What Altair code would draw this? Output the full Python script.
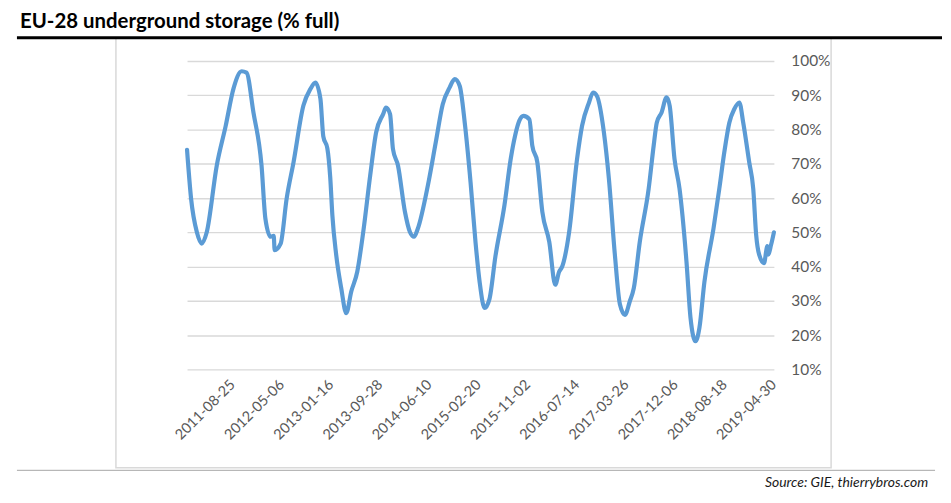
import altair as alt
import pandas as pd

# ---- data ----
dates = [
    "2011-01-01", "2011-01-22", "2011-02-21", "2011-03-18", "2011-04-13", "2011-06-04",
    "2011-07-20", "2011-08-30", "2011-10-11", "2011-11-05", "2011-12-11",
    "2012-01-22", "2012-02-11", "2012-03-09", "2012-03-25", "2012-03-30", "2012-04-30",
    "2012-05-31", "2012-07-06", "2012-08-26", "2012-10-01", "2012-10-27", "2012-11-22",
    "2012-12-07", "2012-12-28",
    "2013-01-12", "2013-01-23", "2013-02-12", "2013-03-10", "2013-04-05", "2013-05-01",
    "2013-06-01", "2013-07-02", "2013-08-07", "2013-09-07", "2013-10-13", "2013-10-28",
    "2013-11-18", "2013-12-03", "2013-12-29",
    "2014-02-03", "2014-03-01", "2014-03-22", "2014-04-11", "2014-06-02", "2014-07-13",
    "2014-08-18", "2014-09-23", "2014-10-19", "2014-11-14", "2014-12-10",
    "2015-01-09", "2015-02-04", "2015-02-25", "2015-03-23", "2015-04-17", "2015-05-18",
    "2015-07-04", "2015-08-04", "2015-08-29", "2015-09-19", "2015-10-10", "2015-11-10",
    "2015-11-25", "2015-12-21",
    "2016-01-16", "2016-02-21", "2016-03-23", "2016-04-12", "2016-04-28", "2016-06-03",
    "2016-07-14", "2016-08-09", "2016-09-14", "2016-10-05", "2016-10-25", "2016-11-30",
    "2016-12-26",
    "2017-01-26", "2017-02-21", "2017-03-19", "2017-04-13", "2017-05-04", "2017-06-04",
    "2017-07-20", "2017-08-15", "2017-08-31", "2017-09-25", "2017-10-21", "2017-11-06",
    "2017-12-01", "2017-12-27",
    "2018-02-01", "2018-02-22", "2018-03-20", "2018-04-09", "2018-05-05", "2018-06-21",
    "2018-07-21", "2018-08-16", "2018-09-11", "2018-10-07", "2018-11-02", "2018-11-22",
    "2018-12-23",
    "2019-01-13", "2019-01-28", "2019-02-13", "2019-03-10", "2019-03-21", "2019-03-26",
    "2019-03-31", "2019-04-16", "2019-04-30",
]
storage_pct = [
    74.1, 59.8, 50.0, 46.7, 50.0, 69.5,
    81.0, 92.0, 97.0, 96.6, 85.0,
    69.5, 54.0, 48.7, 49.0, 44.8, 46.7,
    59.8, 70.5, 87.0, 91.8, 93.7, 89.0,
    78.0, 74.5,
    66.0, 55.0, 43.4, 33.7, 26.4, 32.7,
    38.5, 50.1, 66.6, 79.2, 84.5, 86.4,
    84.5, 74.3, 69.5,
    56.0, 50.1, 48.7, 51.1, 63.7, 76.3,
    87.4, 92.3, 94.7, 92.7, 82.0,
    64.7, 47.0, 35.6, 27.9, 30.5, 43.0,
    58.0, 71.0, 78.5, 82.6, 84.0, 83.0,
    75.3, 70.5,
    56.0, 47.2, 34.7, 38.5, 40.0, 50.1,
    71.4, 81.1, 87.9, 90.8, 89.8, 79.2,
    65.6,
    43.4, 29.0, 25.9, 29.8, 33.7, 47.2,
    62.7, 75.3, 82.0, 85.0, 89.4, 86.9,
    71.4, 62.7,
    41.4, 25.0, 18.2, 22.1, 35.6, 51.1,
    62.7, 73.4, 82.0, 86.0, 87.9, 82.0,
    70.5,
    62.7, 49.3, 43.4, 41.0, 44.5, 46.0,
    43.5, 46.5, 50.0,
]
tick_dates = [
    "2011-08-25", "2012-05-06", "2013-01-16", "2013-09-28", "2014-06-10", "2015-02-20",
    "2015-11-02", "2016-07-14", "2017-03-26", "2017-12-06", "2018-08-18", "2019-04-30",
]
y_ticks = [10, 20, 30, 40, 50, 60, 70, 80, 90, 100]
domain_dates = ["2011-01-01", "2019-04-30"]
title_text = "EU-28 underground storage (% full)"
source_text = "Source: GIE, thierrybros.com"

df = pd.DataFrame({"date": dates, "storage": storage_pct})
one = pd.DataFrame({"k": [0]})


def dt(s):
    y, m, d = (int(p) for p in s.split("-"))
    return alt.DateTime(year=y, month=m, date=d, utc=True)


W, H = 590, 310
PL, PT = 180, 52   # plot origin in svg coords (page = svg + 8)

FONT = "Lato"
GREY = "#595959"

line = alt.Chart(df).mark_line(
    color="#5b9bd5", strokeWidth=4.2, strokeCap="round", strokeJoin="round",
    interpolate="monotone",
).encode(
    x=alt.X(
        "date:T",
        scale=alt.Scale(type="utc", domain=[dt(s) for s in domain_dates]),
        axis=alt.Axis(
            values=[dt(s) for s in tick_dates],
            labelExpr="utcFormat(datum.value, '%Y-%m-%d')",
            labelAngle=315, labelAlign="right", labelBaseline="middle",
            labelPadding=13, labelFlush=False, labelOverlap=False,
            grid=False, domain=False, ticks=False, title=None,
            labelFont=FONT, labelFontSize=14.5, labelColor=GREY,
        ),
    ),
    y=alt.Y(
        "storage:Q",
        scale=alt.Scale(domain=[10, 100], nice=False, zero=False),
        axis=alt.Axis(
            orient="right", values=y_ticks,
            labelExpr="datum.value + '%'",
            labelAlign="left", labelPadding=17, labelFlush=False,
            grid=True, gridColor="#d9d9d9", gridWidth=1.4,
            domain=False, ticks=False, title=None,
            labelFont=FONT, labelFontSize=15.5, labelColor=GREY,
        ),
    ),
)

frame = alt.Chart(one).mark_rect(
    fillOpacity=0, stroke="#d9d9d9", strokeWidth=1.5
).encode(
    x=alt.value(116.5 - 8 - PL), x2=alt.value(835.5 - 8 - PL),
    y=alt.value(37 - 8 - PT), y2=alt.value(469 - 8 - PT),
)

top_rule = alt.Chart(one).mark_rule(color="#000000", strokeWidth=3).encode(
    x=alt.value(17 - 8 - PL), x2=alt.value(947 - 8 - PL), y=alt.value(36.5 - 8 - PT)
)

bottom_rule = alt.Chart(one).mark_rule(color="#a6a6a6", strokeWidth=1).encode(
    x=alt.value(17 - 8 - PL), x2=alt.value(940 - 8 - PL), y=alt.value(471.5 - 8 - PT)
)

title = alt.Chart(one).mark_text(
    text=title_text, font=FONT, fontSize=20.5, fontWeight="bold", color="#000000",
    align="left", baseline="alphabetic",
).encode(x=alt.value(20 - 8 - PL), y=alt.value(27 - 8 - PT))

source = alt.Chart(one).mark_text(
    text=source_text, font=FONT, fontSize=14, fontStyle="italic", color="#1a1a1a",
    align="right", baseline="alphabetic",
).encode(x=alt.value(933 - 8 - PL), y=alt.value(488 - 8 - PT))

chart = alt.layer(frame, line, top_rule, bottom_rule, title, source).properties(
    width=W, height=H,
    autosize="none",
    background="white",
    padding={"left": PL, "top": PT, "right": 940 - PL - W, "bottom": 483 - PT - H},
).configure_view(stroke=None, strokeWidth=0)

chart.save("out.html", embed_options={"renderer": "svg", "actions": False})
